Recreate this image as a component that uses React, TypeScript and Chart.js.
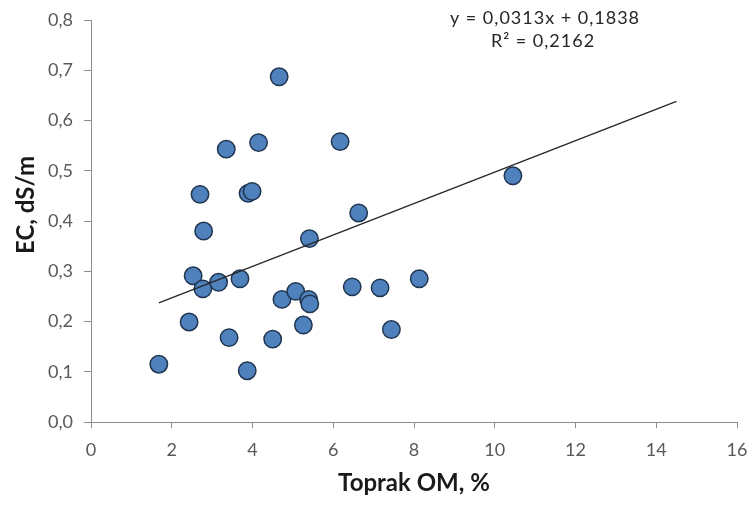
import React, { useEffect, useRef } from "react";
import { Chart, registerables } from "chart.js";

Chart.register(...registerables);

// Soil organic matter (%) and EC (dS/m)
const omValues = [1.68, 2.43, 2.53, 2.70, 2.77, 2.79, 3.16, 3.35, 3.42, 3.69, 3.87, 3.89, 3.99, 4.15, 4.50, 4.66, 4.73, 5.07, 5.26, 5.39, 5.42, 5.41, 6.17, 6.47, 6.63, 7.16, 7.44, 8.13, 10.45];
const ecValues = [0.115, 0.199, 0.291, 0.453, 0.265, 0.380, 0.278, 0.543, 0.168, 0.285, 0.102, 0.455, 0.459, 0.556, 0.165, 0.687, 0.244, 0.260, 0.193, 0.244, 0.235, 0.365, 0.558, 0.269, 0.416, 0.267, 0.184, 0.285, 0.490];

// Linear trend line end points
const trendX = [1.68, 14.5];
const trendY = [0.237, 0.638];

const equationLines = ["y = 0,0313x + 0,1838", "R² = 0,2162"];
const xTitle = "Toprak OM, %";
const yTitle = "EC, dS/m";

const FONT = "Lato, 'Open Sans', sans-serif";
const AXIS = "#8c8c8c";

export default function App() {
  const ref = useRef<HTMLCanvasElement | null>(null);

  useEffect(() => {
    document.body.style.margin = "0";
    const canvas = ref.current;
    if (!canvas) return;

    const textPlugin = {
      id: "extraText",
      afterDraw(chart: any) {
        const ctx = chart.ctx;
        ctx.save();
        // regression equation
        ctx.font = `18px ${FONT}`;
        ctx.fillStyle = "#262626";
        ctx.textAlign = "center";
        ctx.textBaseline = "middle";
        try { (ctx as any).letterSpacing = "1px"; } catch (e) {}
        ctx.fillText(equationLines[0], 545, 18);
        ctx.fillText(equationLines[1], 543, 41);
        try { (ctx as any).letterSpacing = "0px"; } catch (e) {}
        // y axis title
        ctx.font = `bold 24px ${FONT}`;
        ctx.fillStyle = "#1a1a1a";
        ctx.translate(26, 205);
        ctx.rotate(-Math.PI / 2);
        ctx.fillText(yTitle, 0, 0);
        ctx.restore();
      },
    };

    const chart = new Chart(canvas, {
      type: "scatter",
      data: {
        datasets: [
          {
            type: "line",
            label: "Trend",
            data: trendX.map((x, i) => ({ x, y: trendY[i] })),
            borderColor: "#262626",
            borderWidth: 1.3,
            pointRadius: 0,
            fill: false,
          },
          {
            label: "EC",
            data: omValues.map((x, i) => ({ x, y: ecValues[i] })),
            backgroundColor: "#4f81bd",
            borderColor: "#1f3550",
            borderWidth: 1.5,
            pointRadius: 8.7,
          },
        ],
      },
      options: {
        responsive: false,
        animation: false,
        layout: { padding: { left: 0, right: 15, top: 20, bottom: 0 } },
        plugins: {
          legend: { display: false },
          tooltip: { enabled: false },
        },
        scales: {
          x: {
            type: "linear",
            min: 0,
            max: 16,
            ticks: {
              stepSize: 2,
              color: "#595959",
              font: { family: FONT, size: 18 },
              padding: 11,
            },
            grid: { drawOnChartArea: false, color: AXIS, tickLength: 6 },
            border: { color: AXIS, width: 1 },
            title: {
              display: true,
              text: xTitle,
              color: "#1a1a1a",
              font: { family: FONT, size: 24, weight: "bold" },
              padding: { top: 0, bottom: 8 },
            },
            afterFit(scale: any) {
              scale.height = 84;
              scale.paddingLeft = 0;
              scale.paddingRight = 0;
            },
          },
          y: {
            type: "linear",
            min: 0,
            max: 0.8,
            ticks: {
              stepSize: 0.1,
              color: "#595959",
              font: { family: FONT, size: 18 },
              padding: 11,
              callback: (v: any) => Number(v).toFixed(1).replace(".", ","),
            },
            grid: { drawOnChartArea: false, color: AXIS, tickLength: 7 },
            border: { color: AXIS, width: 1 },
            afterFit(scale: any) {
              scale.width = 91;
              scale.paddingTop = 0;
              scale.paddingBottom = 0;
            },
          },
        },
      },
      plugins: [textPlugin],
    });

    return () => chart.destroy();
  }, []);

  return (
    <div style={{ position: "absolute", left: 0, top: 0, width: 752, height: 506, background: "#fff" }}>
      <canvas ref={ref} width={752} height={506} style={{ display: "block" }} />
    </div>
  );
}
